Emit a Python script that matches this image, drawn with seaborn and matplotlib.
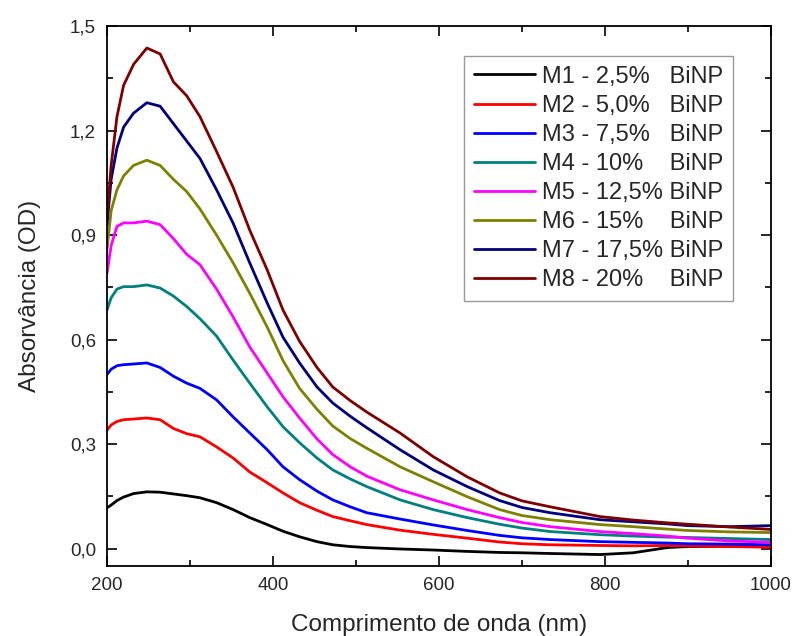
import numpy as np
import pandas as pd
import seaborn as sns
import matplotlib
matplotlib.use("Agg")
import matplotlib.pyplot as plt
from matplotlib.ticker import MultipleLocator, FuncFormatter

# ---- data ----
wavelength = [200, 205, 212, 220, 232, 248, 264, 280, 296, 312, 332, 352, 372, 393,
              412, 432, 453, 472, 493, 513, 553, 593, 634, 673, 700, 734, 794, 834,
              875, 900, 950, 1000]

m1 = [0.117, 0.125, 0.138, 0.148, 0.158, 0.163, 0.162, 0.157, 0.152, 0.146, 0.132,
      0.112, 0.089, 0.069, 0.050, 0.034, 0.020, 0.011, 0.006, 0.003, -0.001, -0.004,
      -0.008, -0.011, -0.012, -0.014, -0.017, -0.012, 0.003, 0.006, 0.007, 0.008]
m2 = [0.340, 0.355, 0.365, 0.370, 0.372, 0.375, 0.370, 0.345, 0.330, 0.321, 0.292,
      0.260, 0.220, 0.189, 0.160, 0.132, 0.110, 0.092, 0.080, 0.069, 0.053, 0.041,
      0.030, 0.019, 0.014, 0.011, 0.009, 0.008, 0.009, 0.008, 0.006, 0.004]
m3 = [0.500, 0.515, 0.525, 0.528, 0.530, 0.533, 0.520, 0.495, 0.475, 0.460, 0.427,
      0.378, 0.332, 0.284, 0.235, 0.198, 0.165, 0.140, 0.120, 0.103, 0.085, 0.068,
      0.052, 0.038, 0.031, 0.026, 0.020, 0.018, 0.016, 0.014, 0.013, 0.011]
m4 = [0.685, 0.720, 0.745, 0.752, 0.752, 0.757, 0.748, 0.725, 0.695, 0.660, 0.610,
      0.541, 0.475, 0.407, 0.350, 0.304, 0.260, 0.226, 0.200, 0.178, 0.140, 0.112,
      0.089, 0.070, 0.059, 0.049, 0.040, 0.036, 0.033, 0.032, 0.029, 0.026]
m5 = [0.790, 0.870, 0.925, 0.935, 0.935, 0.940, 0.930, 0.890, 0.845, 0.815, 0.745,
      0.665, 0.579, 0.504, 0.436, 0.375, 0.315, 0.270, 0.235, 0.208, 0.169, 0.140,
      0.112, 0.089, 0.075, 0.063, 0.049, 0.043, 0.036, 0.030, 0.022, 0.018]
m6 = [0.860, 0.970, 1.030, 1.070, 1.100, 1.115, 1.100, 1.060, 1.025, 0.975, 0.900,
      0.820, 0.733, 0.636, 0.540, 0.460, 0.400, 0.352, 0.316, 0.288, 0.235, 0.192,
      0.149, 0.112, 0.095, 0.083, 0.069, 0.063, 0.056, 0.052, 0.048, 0.046]
m7 = [0.930, 1.060, 1.150, 1.210, 1.250, 1.280, 1.270, 1.220, 1.170, 1.120, 1.030,
      0.934, 0.820, 0.705, 0.607, 0.533, 0.464, 0.418, 0.380, 0.347, 0.284, 0.226,
      0.178, 0.138, 0.118, 0.103, 0.083, 0.077, 0.071, 0.066, 0.063, 0.066]
m8 = [0.950, 1.100, 1.240, 1.330, 1.390, 1.437, 1.420, 1.340, 1.300, 1.240, 1.140,
      1.037, 0.914, 0.800, 0.685, 0.595, 0.520, 0.464, 0.425, 0.392, 0.332, 0.264,
      0.206, 0.160, 0.137, 0.120, 0.092, 0.082, 0.074, 0.070, 0.062, 0.055]

labels = ["M1 - 2,5%   BiNP", "M2 - 5,0%   BiNP", "M3 - 7,5%   BiNP",
          "M4 - 10%    BiNP", "M5 - 12,5% BiNP", "M6 - 15%    BiNP",
          "M7 - 17,5% BiNP", "M8 - 20%    BiNP"]
colors = ["#000000", "#FF0000", "#0000FF", "#008080",
          "#FF00FF", "#808000", "#000080", "#800000"]
series = [m1, m2, m3, m4, m5, m6, m7, m8]

rows = []
for lab, vals in zip(labels, series):
    for w, v in zip(wavelength, vals):
        rows.append({"wl": w, "abs": v, "amostra": lab})
df = pd.DataFrame(rows)

sns.set_theme(style="white")
plt.rcParams["font.family"] = ["Liberation Sans", "DejaVu Sans"]

fig = plt.figure(figsize=(7.95, 6.36), dpi=100)
ax = fig.add_axes([0.1346, 0.110, 0.8352, 0.849])

sns.lineplot(data=df, x="wl", y="abs", hue="amostra", hue_order=labels,
             palette=dict(zip(labels, colors)), estimator=None, sort=False,
             linewidth=2.0, ax=ax)

ax.set_xlim(200, 1000)
ax.set_ylim(-0.05, 1.5)
ax.xaxis.set_major_locator(MultipleLocator(200))
ax.xaxis.set_minor_locator(MultipleLocator(100))
ax.yaxis.set_major_locator(MultipleLocator(0.3))
ax.yaxis.set_minor_locator(MultipleLocator(0.15))
ax.yaxis.set_major_formatter(FuncFormatter(lambda v, p: f"{v:.1f}".replace(".", ",")))

ax.tick_params(which="both", direction="in", top=True, right=True,
               bottom=True, left=True, color="black", width=1.2)
ax.tick_params(which="major", length=7, labelsize=13.5, pad=8)
ax.tick_params(which="minor", length=4.5)
for s in ax.spines.values():
    s.set_color("black")
    s.set_linewidth(1.3)

ax.set_xlabel("Comprimento de onda (nm)", fontsize=17.5, labelpad=14)
ax.set_ylabel("Absorvância (OD)", fontsize=17.5, labelpad=21)

leg = ax.legend(loc="upper right", bbox_to_anchor=(0.943, 0.944), borderaxespad=0,
                fontsize=17, frameon=True, fancybox=False, handlelength=2.6,
                handletextpad=0.3, labelspacing=0.3, borderpad=0.4)
leg.get_frame().set_edgecolor("#808080")
leg.get_frame().set_linewidth(1.0)
for line in leg.get_lines():
    line.set_linewidth(2.0)

fig.savefig("out.png", dpi=100)
